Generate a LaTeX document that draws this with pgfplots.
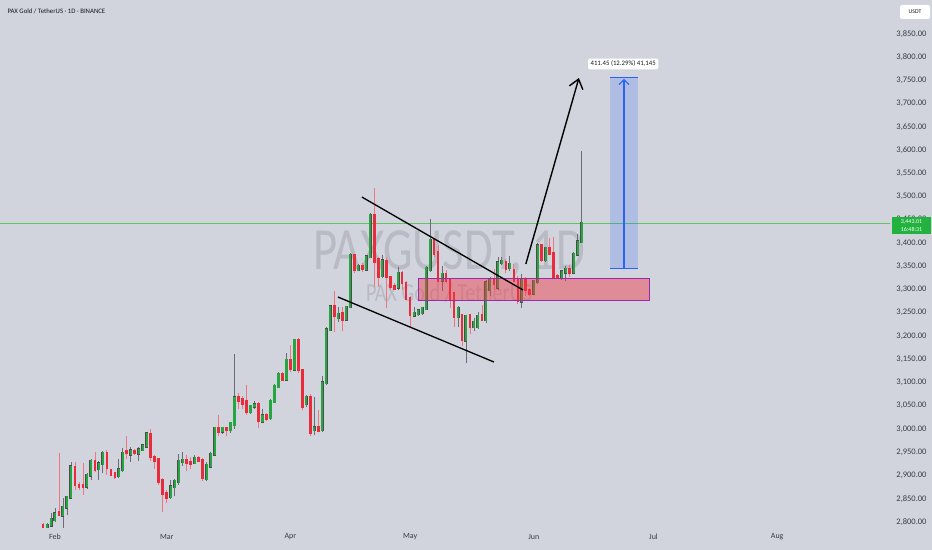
\documentclass[border=0pt]{standalone}
\usepackage{pgfplots}
\pgfplotsset{compat=1.18}
\usepackage{pgfplotstable}
\usepackage{graphicx}
\usepackage{fontspec}
\setmainfont{Carlito}
\usetikzlibrary{arrows.meta}

\definecolor{bg}{RGB}{209,212,220}
\definecolor{upc}{RGB}{38,166,64}
\definecolor{dnc}{RGB}{232,44,60}
\definecolor{upwick}{RGB}{105,109,120}
\definecolor{dnwick}{RGB}{238,118,128}
\definecolor{txt}{RGB}{19,23,34}
\definecolor{axtxt}{RGB}{55,59,70}
\definecolor{wm}{RGB}{184,187,195}
\definecolor{zone}{RGB}{242,54,69}
\definecolor{zoneedge}{RGB}{156,39,176}
\definecolor{meas}{RGB}{41,98,255}
\definecolor{pgreen}{RGB}{34,178,62}
\definecolor{pline}{RGB}{96,196,96}

% day 0 = 1 Feb
\pgfplotstableread{
d O H L C
-2 2782 2798 2780 2793
-1 2793 2819 2790 2806
0 2805 2830 2800 2818
2 2815 2851 2781 2832
3 2832 2856 2815 2853
4 2853 2930 2850 2919
8 2877 2905 2870 2901
9 2901 2935 2890 2930
11 2914 2932 2890 2925
12 2925 2952 2905 2948
16 2899 2935 2895 2912
17 2912 2960 2908 2948
19 2946 2962 2930 2953
21 2948 2962 2932 2955
22 2955 2968 2952 2964
23 2963 2993 2960 2990
29 2854 2890 2850 2876
30 2876 2893 2855 2888
31 2887 2947 2880 2930
32 2930 2950 2920 2933
35 2927 2945 2925 2937
38 2893 2928 2888 2922
39 2920 2950 2918 2946
40 2946 3004 2944 3002
42 2995 3004 2990 3002
44 2999 3015 2992 3012
45 3009 3161 3000 3067
49 3037 3052 3033 3049
50 3049 3060 3043 3052
52 3017 3043 3013 3028
54 3024 3064 3020 3059
55 3059 3097 3057 3092
56 3091 3123 3089 3118
58 3107 3163 3105 3148
60 3129 3193 3127 3191
63 3054 3073 3047 3068
65 2998 3069 2987 3003
67 2998 3113 2993 3099
68 3100 3220 3095 3213
69 3213 3265 3210 3263
71 3240 3262 3230 3247
73 3236 3264 3232 3262
74 3263 3378 3260 3374
76 3342 3355 3340 3350
78 3344 3375 3342 3370
79 3370 3465 3368 3460
82 3330 3375 3325 3362
86 3305 3349 3298 3335
90 3245 3262 3240 3249
91 3248 3258 3244 3254
92 3250 3262 3245 3259
93 3259 3350 3255 3346
94 3343 3451 3338 3406
97 3320 3350 3297 3333
101 3242 3265 3220 3260
103 3191 3245 3142 3243
105 3220 3238 3210 3230
106 3220 3252 3215 3243
108 3235 3320 3228 3314
109 3300 3326 3285 3322
111 3305 3370 3300 3357
112 3358 3370 3352 3361
114 3347 3372 3340 3354
117 3275 3333 3260 3320
120 3292 3320 3290 3317
121 3317 3400 3312 3394
123 3364 3392 3360 3389
127 3328 3342 3320 3338
128 3337 3350 3318 3343
130 3337 3380 3333 3376
131 3376 3420 3372 3403
132 3403 3597 3400 3443
}\up

\pgfplotstableread{
d O H L C
-3 2792 2797 2781 2789
1 2820 2948 2812 2816
5 2917 2928 2868 2880
6 2879 2885 2868 2876
7 2878 2926 2858 2876
10 2931 2950 2908 2912
13 2948 2955 2902 2916
14 2912 2915 2898 2902
15 2905 2908 2893 2897
18 2951 2985 2935 2949
20 2953 2958 2945 2949
24 2988 2999 2931 2940
25 2940 2945 2915 2933
26 2935 2938 2880 2886
27 2890 2895 2822 2862
28 2862 2868 2840 2853
33 2933 2945 2910 2927
34 2928 2940 2915 2926
36 2937 2942 2928 2932
37 2933 2937 2888 2895
41 3002 3030 2985 2995
43 3002 3004 2985 2998
46 3067 3078 3043 3060
47 3063 3071 3043 3055
48 3059 3094 3030 3037
51 3054 3058 3003 3017
53 3029 3035 3018 3022
57 3118 3123 3104 3106
59 3148 3180 3122 3129
61 3190 3195 3120 3127
62 3127 3130 3040 3047
64 3068 3075 2985 2992
66 3004 3040 2993 2997
70 3264 3297 3209 3243
72 3248 3262 3210 3236
75 3373 3377 3335 3342
77 3350 3356 3338 3344
80 3460 3518 3306 3360
81 3365 3370 3306 3328
83 3360 3370 3260 3328
84 3327 3330 3300 3306
85 3306 3315 3298 3302
87 3334 3340 3300 3314
88 3314 3318 3278 3280
89 3281 3285 3220 3245
95 3406 3410 3370 3378
96 3379 3395 3315 3320
98 3332 3342 3315 3320
99 3320 3325 3260 3278
100 3292 3295 3220 3241
102 3245 3248 3178 3192
104 3245 3248 3205 3220
107 3245 3266 3232 3235
110 3322 3345 3300 3313
113 3358 3365 3335 3344
115 3342 3355 3320 3320
116 3320 3330 3268 3275
118 3320 3327 3285 3300
119 3299 3303 3285 3292
122 3394 3397 3360 3364
124 3389 3410 3375 3377
125 3378 3413 3326 3328
126 3329 3333 3324 3327
129 3343 3352 3326 3336
}\down

\begin{document}
\begin{tikzpicture}
\fill[bg] (0,0) rectangle (932bp,550bp);
\useasboundingbox (0,0) rectangle (932bp,550bp);
\begin{axis}[
    at={(0bp,22bp)}, anchor=south west,
    scale only axis, width=890bp, height=528bp,
    xmin=-13.784, xmax=209.27,
    ymin=2787.1, ymax=3922.6,
    axis line style={draw=none},
    major tick length=0pt,
    xtick={0,28,59,89,120,150,181},
    xticklabels={Feb,Mar,Apr,May,Jun,Jul,Aug},
    xticklabel style={font=\fontsize{8}{9}\selectfont, text=axtxt, anchor=center, yshift=-9bp},
    ytick={2800,2850,...,3850},
    yticklabel pos=right,
    yticklabel style={font=\fontsize{8.5}{9}\selectfont, text=axtxt, anchor=east, xshift=40bp,
        /pgf/number format/.cd, fixed, fixed zerofill, precision=2, 1000 sep={,}, assume math mode=true},
    scaled y ticks=false,
]
% watermark
\node[anchor=base, text=wm, inner sep=0pt, font=\fontsize{60}{60}\selectfont] at (axis cs:98.75,3343.4) {\scalebox{0.78}[1]{PAXGUSDT, 1D}};
\node[anchor=base, text=wm, inner sep=0pt, font=\fontsize{26}{26}\selectfont] at (axis cs:98.75,3274.5) {\scalebox{0.78}[1]{PAX Gold / TetherUS}};
\draw[pline, line width=0.7bp] (axis cs:-20,3443) -- (axis cs:220,3443);

% wicks
\addplot[draw=none, forget plot, error bars/.cd, y dir=plus, y explicit, error mark=none,
    error bar style={draw=upwick, line width=0.8bp}]
    table[x=d, y=L, y error expr=\thisrow{H}-\thisrow{L}] {\up};
\addplot[draw=none, forget plot, error bars/.cd, y dir=plus, y explicit, error mark=none,
    error bar style={draw=dnwick, line width=0.8bp}]
    table[x=d, y=L, y error expr=\thisrow{H}-\thisrow{L}] {\down};
% bodies
\addplot[draw=none, forget plot, error bars/.cd, y dir=plus, y explicit, error mark=none,
    error bar style={draw=black!70, line width=3.0bp, line cap=rect}]
    table[x=d, y=O, y error expr=\thisrow{C}-\thisrow{O}] {\up};
\addplot[draw=none, forget plot, error bars/.cd, y dir=plus, y explicit, error mark=none,
    error bar style={draw=upc, line width=2.2bp, line cap=rect}]
    table[x=d, y=O, y error expr=\thisrow{C}-\thisrow{O}] {\up};
\addplot[draw=none, forget plot, error bars/.cd, y dir=plus, y explicit, error mark=none,
    error bar style={draw=dnc, line width=2.7bp, line cap=rect}]
    table[x=d, y=C, y error expr=\thisrow{O}-\thisrow{C}] {\down};

% drawings
\filldraw[fill=zone, fill opacity=0.45, draw=zoneedge, line width=1bp]
    (axis cs:91.0,3275.3) rectangle (axis cs:148.9,3322.6);
\draw[black, line width=1.3bp] (axis cs:76.9,3498.9) -- (axis cs:117.3,3298.9);
\draw[black, line width=1.3bp] (axis cs:70.9,3283.9) -- (axis cs:110.0,3144.1);
\draw[black, line width=1.4bp, -{Straight Barb[length=9bp,width=14bp]}]
    (axis cs:118.0,3354.8) -- (axis cs:131.3,3754.8);
\fill[meas, fill opacity=0.2] (axis cs:139.1,3346) rectangle (axis cs:146.1,3755);
\draw[meas, line width=1.1bp] (axis cs:139.1,3346) -- (axis cs:146.1,3346);
\draw[meas, line width=1.1bp] (axis cs:139.1,3755) -- (axis cs:146.1,3755);
\draw[meas, line width=1.1bp, -{Straight Barb[length=5bp,width=10bp]}]
    (axis cs:142.6,3346) -- (axis cs:142.6,3753);
\node[fill=white, rounded corners=1.5bp, inner sep=2.5bp, text=txt, font=\fontsize{6.8}{7}\selectfont]
    at (axis cs:142.4,3785) {411.45 (12.29\%) 41,145};
\end{axis}

% header and price scale extras
\node[anchor=west, text=txt, font=\fontsize{6.8}{7}\selectfont] at (4bp,538.5bp) {PAX Gold / TetherUS · 1D · BINANCE};
\fill[white, rounded corners=2bp] (900bp,531bp) rectangle (930bp,545bp);
\node[text=txt, font=\fontsize{5.8}{6}\selectfont] at (915bp,538bp) {USDT};
\fill[pgreen] (892bp,316bp) rectangle (931bp,333bp);
\node[text=white, font=\fontsize{6}{6}\selectfont] at (911.5bp,328.5bp) {3,443.01};
\node[text=white, font=\fontsize{6}{6}\selectfont] at (911.5bp,320.5bp) {16:48:31};
\end{tikzpicture}
\end{document}
